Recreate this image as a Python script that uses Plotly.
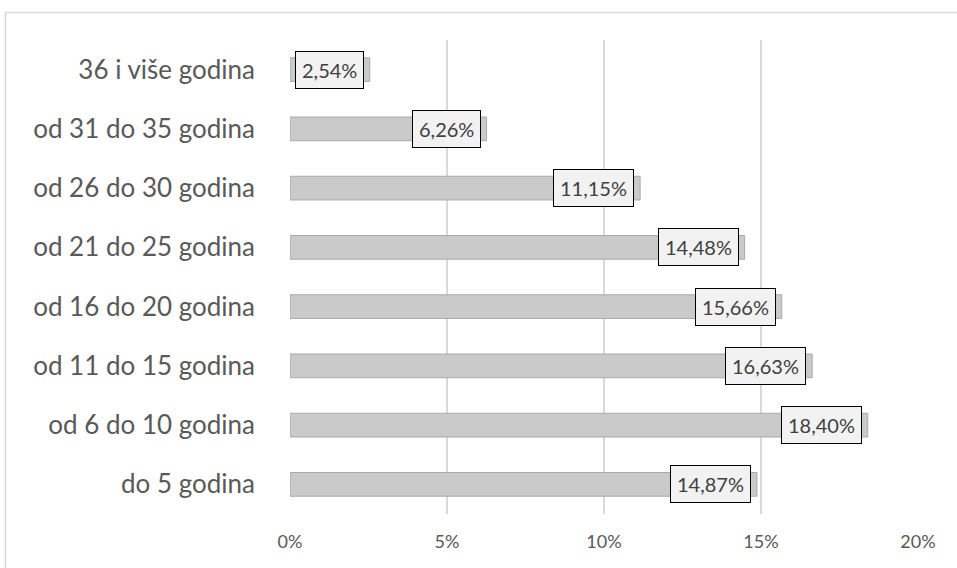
import plotly.graph_objects as go

categories = ["do 5 godina", "od 6 do 10 godina", "od 11 do 15 godina", "od 16 do 20 godina",
              "od 21 do 25 godina", "od 26 do 30 godina", "od 31 do 35 godina", "36 i više godina"]
values = [14.87, 18.40, 16.63, 15.66, 14.48, 11.15, 6.26, 2.54]
tick_vals = [0, 5, 10, 15, 20]
tick_text = ["0%", "5%", "10%", "15%", "20%"]

FONT = "Lato, 'Open Sans', sans-serif"

fig = go.Figure()
fig.add_trace(go.Bar(
    y=categories, x=values, orientation="h", width=0.4,
    marker=dict(color="#cacaca", line=dict(color="#a9a9a9", width=1)),
    hoverinfo="x+y",
))

for c, v in zip(categories, values):
    fig.add_annotation(
        x=v, y=c, xref="x", yref="y", xanchor="right", yanchor="middle",
        xshift=-6, showarrow=False,
        text=f"{v:.2f}%".replace(".", ","),
        font=dict(family=FONT, size=20, color="#404040"),
        bgcolor="#f2f2f2", bordercolor="#000000", borderwidth=1, borderpad=6,
    )

W, H = 957, 568
L, R, T, B = 290, 39, 40, 54
pw, ph = W - L - R, H - T - B
fig.add_shape(type="rect", xref="paper", yref="paper",
              x0=(5.5 - L) / pw, x1=(W + 10 - L) / pw,
              y0=-(B + 10) / ph, y1=1 + (T - 12.5) / ph,
              line=dict(color="#d9d9d9", width=1.5), layer="below")

fig.update_layout(
    width=W, height=H, margin=dict(l=L, r=R, t=T, b=B),
    plot_bgcolor="white", paper_bgcolor="white", showlegend=False,
    font=dict(family=FONT, color="#595959"),
    xaxis=dict(range=[0, 20], tickvals=tick_vals, ticktext=tick_text,
               showgrid=True, gridcolor="#d9d9d9", gridwidth=1.5,
               zeroline=False, showline=False, ticks="",
               tickfont=dict(size=18, color="#595959"),
               ticklabelstandoff=15),
    yaxis=dict(categoryorder="array", categoryarray=categories,
               showgrid=False, zeroline=False, showline=False, ticks="",
               tickfont=dict(size=26, color="#595959"),
               ticklabelstandoff=34, range=[-0.5, 7.5]),
)

fig.write_html("out.html", config={"displayModeBar": False},
               post_script="document.body.style.margin='0';")
